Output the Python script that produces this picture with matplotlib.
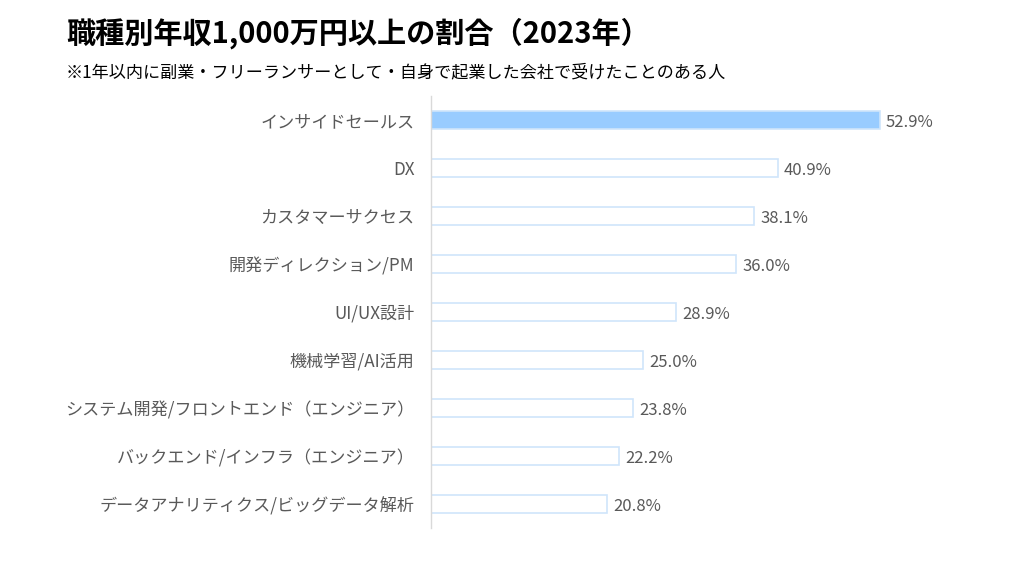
import matplotlib
matplotlib.use("Agg")
import matplotlib.pyplot as plt

plt.rcParams['font.family'] = ['Noto Sans CJK JP', 'DejaVu Sans']

# data
categories = [
    "インサイドセールス",
    "DX",
    "カスタマーサクセス",
    "開発ディレクション/PM",
    "UI/UX設計",
    "機械学習/AI活用",
    "システム開発/フロントエンド（エンジニア）",
    "バックエンド/インフラ（エンジニア）",
    "データアナリティクス/ビッグデータ解析",
]
values = [52.9, 40.9, 38.1, 36.0, 28.9, 25.0, 23.8, 22.2, 20.8]

title = "職種別年収1,000万円以上の割合（2023年）"
subtitle = "※1年以内に副業・フリーランサーとして・自身で起業した会社で受けたことのある人"

fig = plt.figure(figsize=(10.24, 5.76), dpi=100)
ax = fig.add_axes([431 / 1024, 1 - 528 / 576, (940 - 431) / 1024, 432 / 576])

y = list(range(len(categories)))
fills = ["#99ccff"] + ["white"] * (len(values) - 1)
ax.barh(y, values, height=0.375, color=fills, edgecolor="#cfe5fb", linewidth=1.2)

for yi, v in zip(y, values):
    ax.text(v + 0.7, yi + 0.06, f"{v:.1f}%", va="center", ha="left", fontsize=12, color="#595959")

ax.set_xlim(0, 60)
ax.set_ylim(len(categories) - 0.5, -0.5)
ax.set_yticks(y)
ax.set_yticklabels(categories, fontsize=12.3, color="#595959")
ax.tick_params(axis="y", length=0, pad=12)
ax.set_xticks([])
for s in ["top", "right", "bottom"]:
    ax.spines[s].set_visible(False)
ax.spines["left"].set_color("#d9d9d9")
ax.spines["left"].set_linewidth(1)

fig.text(66 / 1024, 1 - 33 / 576, title, fontsize=21, fontweight="bold", va="center", ha="left", color="black")
fig.text(66 / 1024, 1 - 72 / 576, subtitle, fontsize=12.3, va="center", ha="left", color="black")

fig.savefig("out.png", dpi=100)
